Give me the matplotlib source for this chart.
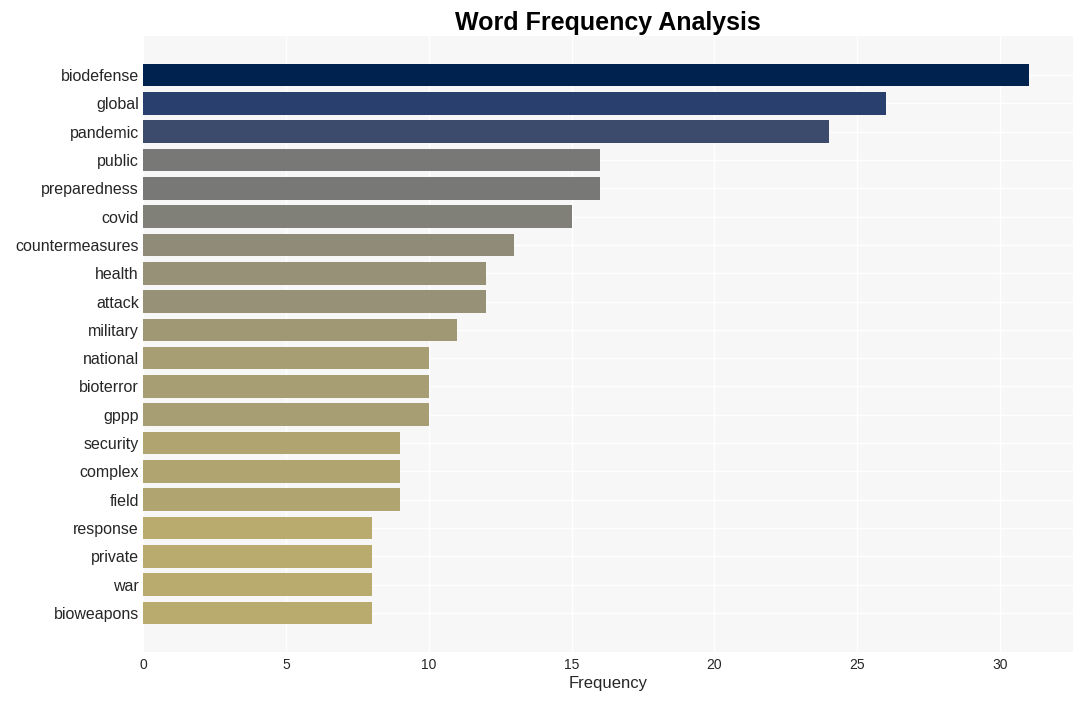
import matplotlib
matplotlib.use("Agg")
import matplotlib.pyplot as plt
import numpy as np

plt.rcParams["font.family"] = ["Liberation Sans", "DejaVu Sans"]

words = [
    "biodefense", "global", "pandemic", "public", "preparedness", "covid",
    "countermeasures", "health", "attack", "military", "national", "bioterror",
    "gppp", "security", "complex", "field", "response", "private", "war",
    "bioweapons",
]
counts = [31, 26, 24, 16, 16, 15, 13, 12, 12, 11, 10, 10, 10, 9, 9, 9, 8, 8, 8, 8]

vals = np.array(counts, dtype=float)
colors = plt.cm.cividis(1 - vals / vals.max())

fig = plt.figure(figsize=(10.83, 7.01), dpi=100)
ax = fig.add_axes([143 / 1083, 1 - 652 / 701, (1073 - 143) / 1083, (652 - 36) / 701])
ax.set_facecolor("#f7f7f7")
ypos = np.arange(len(words))
ax.barh(ypos, vals, height=0.8, color=colors, zorder=2)
ax.set_yticks(ypos)
ax.set_yticklabels(words, fontsize=11.5, color="#262626")
ax.set_ylim(len(words) - 1 + 1.38, -1.38)
ax.set_xlim(0, vals.max() * 1.05)
ax.set_xticks([0, 5, 10, 15, 20, 25, 30])
ax.tick_params(axis="x", labelsize=10, colors="#262626", length=0, pad=4)
ax.tick_params(axis="y", length=0, pad=3)
ax.grid(True, color="white", linewidth=1, zorder=0)
ax.set_axisbelow(True)
for s in ax.spines.values():
    s.set_visible(False)
ax.set_xlabel("Frequency", fontsize=12, color="#262626", labelpad=3)
ax.set_title("Word Frequency Analysis", fontsize=18, fontweight="bold", pad=4)

fig.savefig("out.png", dpi=100)
